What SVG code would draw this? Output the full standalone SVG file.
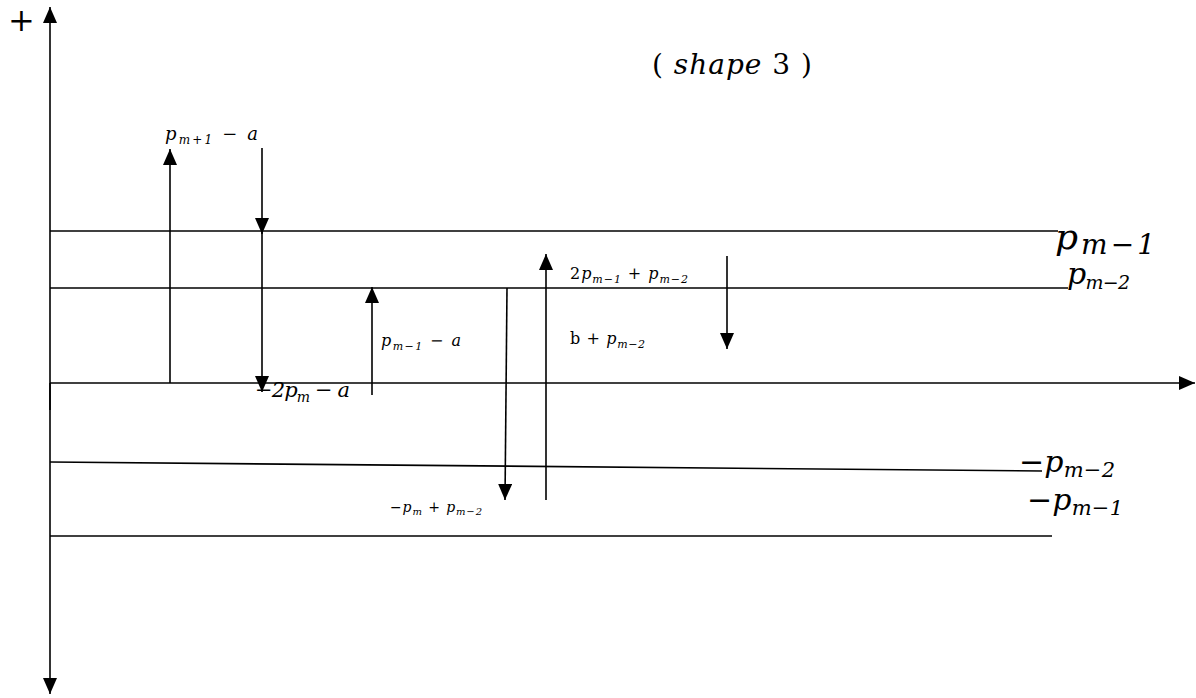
<svg xmlns="http://www.w3.org/2000/svg" width="1196" height="698" viewBox="0 0 1196 698">
<defs>
<marker id="ah" markerWidth="16" markerHeight="14" refX="16" refY="7" orient="auto" markerUnits="userSpaceOnUse">
<path d="M0,0 L16,7 L0,14 Z" fill="#000"/>
</marker>
<style>
.ln{stroke:#000;stroke-width:1.6;fill:none}
.ar{stroke:#000;stroke-width:1.6;fill:none;marker-end:url(#ah)}
.m{font-family:"DejaVu Serif","Liberation Serif",serif;font-style:italic;fill:#000}
.r{font-family:"DejaVu Serif","Liberation Serif",serif;fill:#000}
.u{font-style:normal}
</style>
</defs>
<rect width="1196" height="698" fill="#fff"/>
<g id="connectors">
<line class="ar" x1="50" y1="410" x2="50" y2="7"/>
<line class="ar" x1="50" y1="383" x2="50" y2="694"/>
<line class="ar" x1="50" y1="383" x2="1195" y2="383"/>
<line class="ln" x1="50" y1="231" x2="1058" y2="231"/>
<line class="ln" x1="50" y1="288" x2="1068" y2="288"/>
<line class="ln" x1="50" y1="462" x2="1042" y2="471"/>
<line class="ln" x1="50" y1="536" x2="1052" y2="536"/>
<line class="ar" x1="170" y1="383" x2="170" y2="149"/>
<line class="ar" x1="262" y1="148" x2="262" y2="234"/>
<line class="ar" x1="262" y1="230" x2="262" y2="392"/>
<line class="ar" x1="372" y1="395" x2="372" y2="287"/>
<line class="ar" x1="507" y1="288" x2="505" y2="500"/>
<line class="ar" x1="546" y1="500" x2="546" y2="254"/>
<line class="ar" x1="727" y1="256" x2="727" y2="349"/>
</g>
<g id="plus"><text class="r" x="8" y="31" font-size="32">+</text></g>
<g id="title"><text class="r" x="652" y="74" font-size="28" textLength="160" lengthAdjust="spacing">( <tspan class="m">shape</tspan> 3 )</text></g>
<g id="lbl-pm1a"><text class="m" x="165" y="140" font-size="18" textLength="93" lengthAdjust="spacing">p<tspan font-size="12" dy="4">m+1</tspan><tspan dy="-4" class="u"> − </tspan>a</text></g>
<g id="lbl-2pma"><text class="m" x="255" y="397" font-size="21" textLength="95" lengthAdjust="spacing"><tspan class="u">−</tspan>2p<tspan font-size="14" dy="5">m</tspan><tspan dy="-5" class="u"> − </tspan>a</text></g>
<g id="lbl-pm1-a"><text class="m" x="381" y="346" font-size="16" textLength="80" lengthAdjust="spacing">p<tspan font-size="11" dy="4">m−1</tspan><tspan dy="-4" class="u"> − </tspan>a</text></g>
<g id="lbl-2pm1pm2"><text class="m" x="570" y="279" font-size="16" textLength="118" lengthAdjust="spacing"><tspan class="u">2</tspan>p<tspan font-size="11" dy="4">m−1</tspan><tspan dy="-4" class="u"> + </tspan>p<tspan font-size="11" dy="4">m−2</tspan></text></g>
<g id="lbl-bpm2"><text class="r" x="570" y="344" font-size="16" textLength="75" lengthAdjust="spacing">b + <tspan class="m">p</tspan><tspan class="m" font-size="11" dy="4">m−2</tspan></text></g>
<g id="lbl-pmpm2"><text class="r" x="390" y="512" font-size="14" textLength="92" lengthAdjust="spacing">−<tspan class="m">p</tspan><tspan class="m" font-size="10" dy="3">m</tspan><tspan dy="-3"> + </tspan><tspan class="m">p</tspan><tspan class="m" font-size="10" dy="3">m−2</tspan></text></g>
<g id="lbl-r1"><text class="m" x="1055" y="249" font-size="36" textLength="100" lengthAdjust="spacing">p<tspan font-size="28" dy="5">m−1</tspan></text></g>
<g id="lbl-r2"><text class="m" x="1067" y="284" font-size="30" textLength="63" lengthAdjust="spacing">p<tspan font-size="19" dy="5">m−2</tspan></text></g>
<g id="lbl-r3"><text class="m" x="1019" y="472" font-size="30" textLength="96" lengthAdjust="spacing"><tspan class="u">−</tspan>p<tspan font-size="21" dy="5">m−2</tspan></text></g>
<g id="lbl-r4"><text class="m" x="1027" y="510" font-size="30" textLength="96" lengthAdjust="spacing"><tspan class="u">−</tspan>p<tspan font-size="21" dy="5">m−1</tspan></text></g>
</svg>
